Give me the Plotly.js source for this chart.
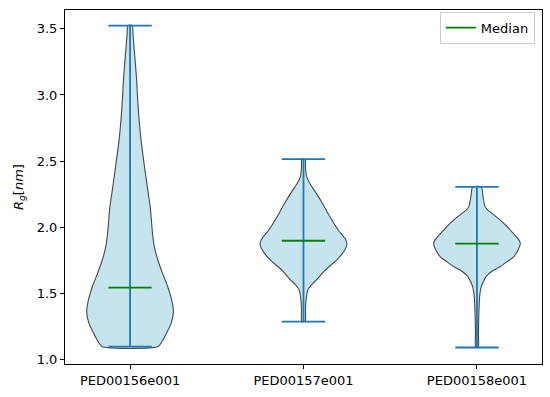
<!DOCTYPE html>
<html>
<head>
<meta charset="utf-8">
<script src="https://cdn.plot.ly/plotly-3.0.1.min.js"></script>
<style>html,body{margin:0;padding:0;background:#fff;}#chart{width:550px;height:397px;}</style>
</head>
<body>
<div id="chart"></div>
<script>
// Categories and summary values
const categories = ["PED00156e001", "PED00157e001", "PED00158e001"];
const positions = [1, 2, 3];
const mins = [1.10, 1.289, 1.093];
const maxs = [3.524, 2.515, 2.306];
const medians = [1.545, 1.899, 1.877];

// Density profiles (value, relative half-width; max = 1)
const v1Vals = [1.10, 1.15, 1.20, 1.277, 1.364, 1.452, 1.552, 1.653, 1.754, 1.854, 1.95, 2.105, 2.168, 2.28, 2.419, 2.67, 2.85, 3.0, 3.1, 3.25, 3.35, 3.45, 3.524];
const v1Dens = [0.65, 0.76, 0.84, 0.95, 1.0, 0.96, 0.87, 0.75, 0.64, 0.56, 0.52, 0.48, 0.46, 0.41, 0.35, 0.25, 0.20, 0.17, 0.155, 0.12, 0.095, 0.07, 0.05];

const v2Vals = [1.289, 1.377, 1.452, 1.528, 1.565, 1.603, 1.64, 1.678, 1.754, 1.80, 1.829, 1.867, 1.904, 1.98, 2.08, 2.18, 2.255, 2.33, 2.38, 2.45, 2.515];
const v2Dens = [0.04, 0.046, 0.06, 0.10, 0.18, 0.30, 0.40, 0.50, 0.77, 0.89, 0.95, 1.0, 0.98, 0.80, 0.61, 0.44, 0.30, 0.15, 0.076, 0.046, 0.04];

const v3Vals = [1.093, 1.20, 1.30, 1.40, 1.477, 1.54, 1.578, 1.628, 1.678, 1.703, 1.74, 1.78, 1.83, 1.88, 1.904, 1.98, 2.055, 2.105, 2.13, 2.155, 2.23, 2.306];
const v3Dens = [0.03, 0.035, 0.04, 0.05, 0.062, 0.09, 0.13, 0.21, 0.39, 0.53, 0.69, 0.85, 0.95, 1.0, 0.97, 0.77, 0.54, 0.35, 0.25, 0.19, 0.14, 0.10];

const profiles = [[v1Vals, v1Dens], [v2Vals, v2Dens], [v3Vals, v3Dens]];
const halfWidth = 0.25;
const capHalf = 0.125;

const traces = [];
profiles.forEach(([vals, dens], i) => {
  const p = positions[i];
  const xs = [], ys = [];
  for (let k = 0; k < vals.length; k++) { xs.push(p + halfWidth * dens[k]); ys.push(vals[k]); }
  for (let k = vals.length - 1; k >= 0; k--) { xs.push(p - halfWidth * dens[k]); ys.push(vals[k]); }
  xs.push(xs[0]); ys.push(ys[0]);
  traces.push({
    type: 'scatter', mode: 'lines', x: xs, y: ys, fill: 'toself',
    fillcolor: 'rgba(173,216,230,0.7)',
    line: {color: 'rgba(0,0,0,0.7)', width: 1.1, shape: 'spline', smoothing: 0.6},
    hoverinfo: 'skip', showlegend: false
  });
});

const blue = '#1f77b4';
positions.forEach((p, i) => {
  traces.push({type: 'scatter', mode: 'lines', x: [p, p], y: [mins[i], maxs[i]],
    line: {color: blue, width: 1.8}, showlegend: false, hoverinfo: 'skip'});
  traces.push({type: 'scatter', mode: 'lines', x: [p - capHalf, p + capHalf], y: [mins[i], mins[i]],
    line: {color: blue, width: 1.8}, showlegend: false, hoverinfo: 'skip'});
  traces.push({type: 'scatter', mode: 'lines', x: [p - capHalf, p + capHalf], y: [maxs[i], maxs[i]],
    line: {color: blue, width: 1.8}, showlegend: false, hoverinfo: 'skip'});
});
positions.forEach((p, i) => {
  traces.push({type: 'scatter', mode: 'lines', x: [p - capHalf, p + capHalf], y: [medians[i], medians[i]],
    line: {color: 'green', width: 1.8}, name: 'Median', legendgroup: 'med',
    showlegend: i === 0, hoverinfo: 'skip'});
});

const font = {family: 'DejaVu Sans', size: 13, color: '#000'};
const layout = {
  width: 550, height: 397,
  margin: {l: 65, r: 8, t: 10, b: 33, pad: 0},
  paper_bgcolor: '#fff', plot_bgcolor: '#fff',
  font: font,
  showlegend: true,
  legend: {x: 0.985, y: 0.995, xanchor: 'right', yanchor: 'top',
    bordercolor: '#cccccc', borderwidth: 1, bgcolor: 'rgba(255,255,255,0.8)',
    font: font, itemwidth: 30},
  xaxis: {range: [0.625, 3.375], tickvals: positions, ticktext: categories,
    showgrid: false, zeroline: false, showline: true, mirror: true, linecolor: '#000', linewidth: 1,
    ticks: 'outside', ticklen: 4, tickcolor: '#000', tickfont: font},
  yaxis: {range: [0.9685, 3.6415], tickvals: [1.0, 1.5, 2.0, 2.5, 3.0, 3.5], tickformat: '.1f',
    showgrid: false, zeroline: false, showline: true, mirror: true, linecolor: '#000', linewidth: 1,
    ticks: 'outside', ticklen: 4, tickcolor: '#000', tickfont: font,
    title: {text: '<i>R</i><sub><i>g</i></sub>[<i>nm</i>]', font: font, standoff: 10}}
};

Plotly.newPlot('chart', traces, layout, {displayModeBar: false, staticPlot: true});
</script>
</body>
</html>
